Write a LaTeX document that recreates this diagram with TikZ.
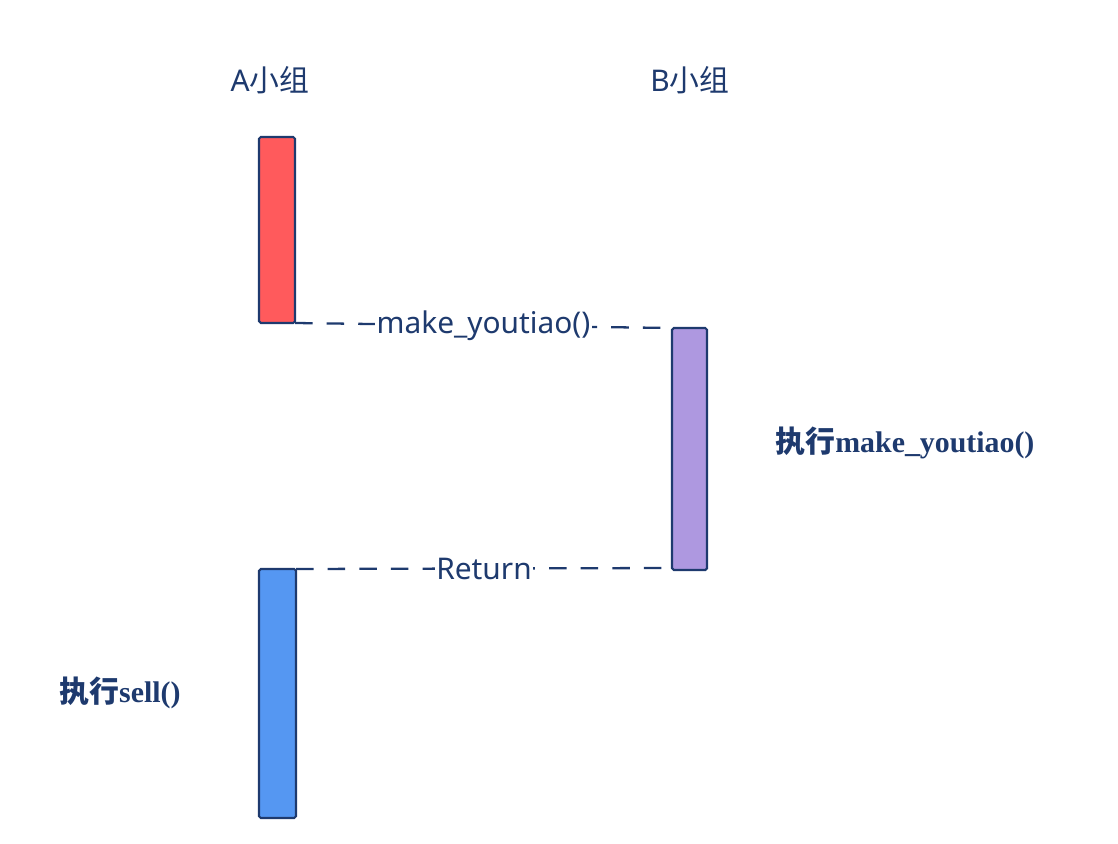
\documentclass[tikz,border=0pt]{standalone}
\usepackage{fontspec}
\setmainfont{Liberation Serif}
\newfontfamily\cjk{Noto Sans CJK SC}
\newfontfamily\sans{Noto Sans}
\definecolor{ink}{HTML}{1E3A6E}
\definecolor{redf}{HTML}{FF5A5C}
\definecolor{purf}{HTML}{AE98E0}
\definecolor{bluef}{HTML}{5597F2}
\begin{document}
\begin{tikzpicture}[x=0.02cm,y=-0.02cm,
  bar/.style={draw=ink,line width=1.2pt,rounded corners=1pt},
  lbl/.style={text=ink,font=\fontsize{17}{20}\selectfont},
  msg/.style={draw=ink,line width=1.3pt,dash pattern=on 10pt off 8pt},
  ml/.style={text=ink,fill=white,inner sep=1pt,font=\fontsize{17}{20}\selectfont\sans\bfseries}]
\useasboundingbox (0,0) rectangle (1118,844);
\node[lbl] (A) at (270,80) {\sans A\cjk 小组};
\node[lbl] (B) at (690,80) {\sans B\cjk 小组};
\draw[bar,fill=redf] (259,137) rectangle (295,323);
\coordinate (r) at (295,323);
\draw[bar,fill=purf] (672,328) rectangle (707,570);
\coordinate (p1) at (672,328);
\coordinate (p2) at (672,568);
\draw[bar,fill=bluef] (259,569) rectangle (296,818);
\coordinate (b) at (296,569);
\draw[msg] (r) -- (p1) node[ml,midway] (m1) {make\_youtiao()};
\draw[msg] (b) -- (p2) node[ml,midway] (m2) {Return};
\node[lbl,font=\fontsize{17}{20}\selectfont\bfseries] (e1) at (905,443) {{\cjk 执行}make\_youtiao()};
\node[lbl,font=\fontsize{17}{20}\selectfont\bfseries] (e2) at (120,693) {{\cjk 执行}sell()};
\end{tikzpicture}
\end{document}
